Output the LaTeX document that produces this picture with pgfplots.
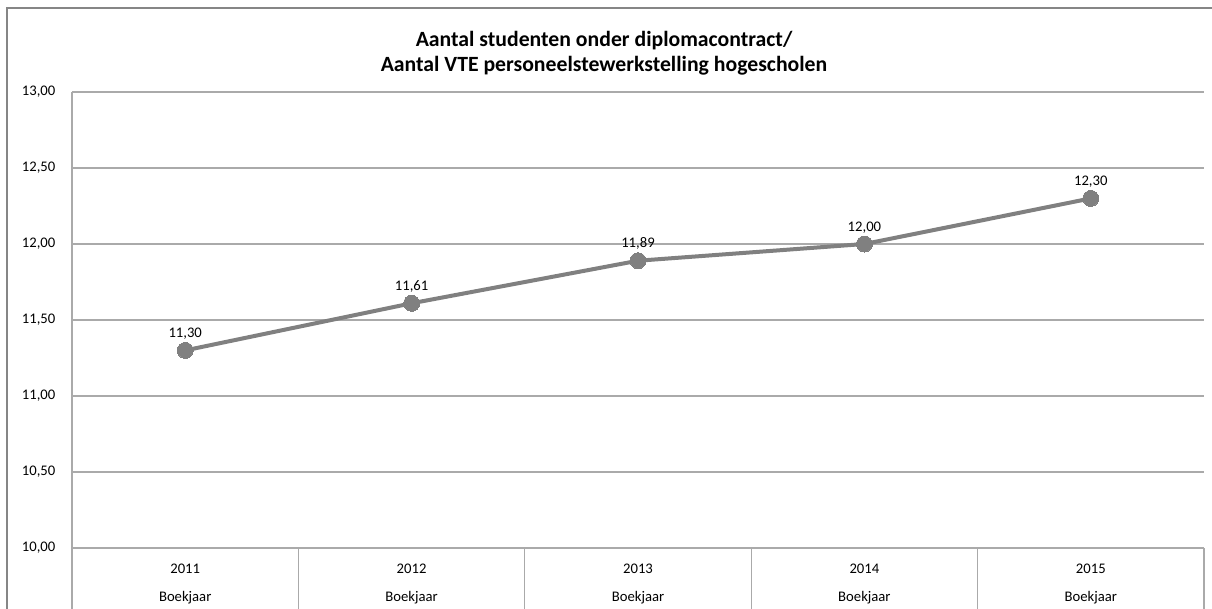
\documentclass[border=0pt]{standalone}
\usepackage{fontspec}
\setmainfont{Carlito}
\usepackage{pgfplots}
\pgfplotsset{compat=1.18}
\definecolor{linegray}{RGB}{128,128,128}
\definecolor{gridgray}{RGB}{170,170,170}
\definecolor{bordergray}{RGB}{134,134,134}
\begin{document}
\begin{tikzpicture}
\path[use as bounding box] (0,0) rectangle (909pt,456pt);
\draw[bordergray, line width=0.8pt] (5.25pt,-5pt) -- (5.25pt,450pt) -- (920pt,450pt);
\node[anchor=base, font=\fontsize{16.3}{19}\selectfont\bfseries] at (453pt,421pt) {Aantal studenten onder diplomacontract/};
\node[anchor=base, font=\fontsize{16.3}{19}\selectfont\bfseries] at (453pt,402pt) {Aantal VTE personeelstewerkstelling hogescholen};
\begin{axis}[
  at={(54pt,45pt)}, anchor=south west,
  scale only axis, width=849pt, height=342pt,
  xmin=0.5, xmax=5.5, ymin=10, ymax=13,
  ytick={10,10.5,...,13},
  xtick={1,2,3,4,5},
  xticklabels={{2011\\[8pt]Boekjaar},{2012\\[8pt]Boekjaar},{2013\\[8pt]Boekjaar},{2014\\[8pt]Boekjaar},{2015\\[8pt]Boekjaar}},
  xticklabel style={align=center, font=\fontsize{11}{13}\selectfont, anchor=north, yshift=-8.5pt},
  yticklabel style={font=\fontsize{11}{13}\selectfont, anchor=east, xshift=-9pt},
  major tick length=0pt,
  axis x line*=bottom, axis y line*=left,
  axis line style={gridgray, line width=0.8pt, -},
  ymajorgrids, grid style={gridgray, line width=0.8pt},
  /pgf/number format/.cd, fixed, fixed zerofill, precision=2, use comma, assume math mode=true,
  /pgfplots/.cd,
  clip=false,
  nodes near coords,
  point meta=y,
  nodes near coords style={font=\fontsize{11}{13}\selectfont, anchor=south, yshift=5pt, text=black,
    /pgf/number format/.cd, fixed, fixed zerofill, precision=2, use comma, assume math mode=true},
]
\addplot[linegray, line width=3pt, mark=*, mark size=6pt, mark options={fill=linegray, draw=linegray, line width=0pt}]
  coordinates {(1,11.30) (2,11.61) (3,11.89) (4,12.00) (5,12.30)};
\foreach \xx in {0.5,1.5,2.5,3.5,4.5,5.5} {
  \edef\tmp{\noexpand\draw[gridgray, line width=0.8pt] (axis cs:\xx,10) -- ++(0pt,-50pt);}
  \tmp
}
\end{axis}
\end{tikzpicture}
\end{document}
